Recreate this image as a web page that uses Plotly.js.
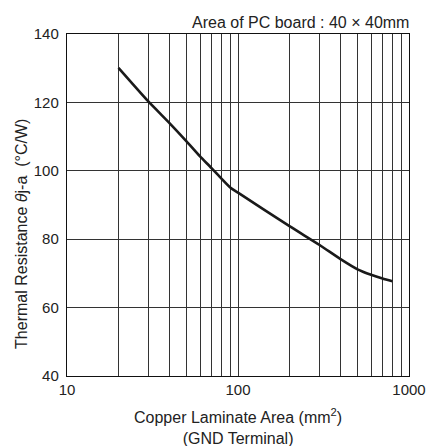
<!DOCTYPE html>
<html>
<head>
<meta charset="utf-8">
<script src="https://cdn.plot.ly/plotly-3.0.1.min.js"></script>
<style>html,body{margin:0;padding:0;background:#fff;}#chart{width:432px;height:446px;}</style>
</head>
<body>
<div id="chart"></div>
<script>
const copperArea = [20, 30, 40, 50, 60, 70, 80, 90, 100, 200, 300, 400, 500, 600, 700, 800];
const thermalResistance = [130.1, 120.2, 113.8, 108.6, 104.2, 100.8, 97.7, 95.1, 93.6, 83.8, 78.3, 74.1, 71.2, 69.6, 68.5, 67.7];
const xTickVals = [10, 100, 1000];
const xTickText = ['10', '100', '1000'];
const xMinorVals = [20, 30, 40, 50, 60, 70, 80, 90, 200, 300, 400, 500, 600, 700, 800, 900];
const yTickVals = [40, 60, 80, 100, 120, 140];

const tickFont = {family: 'Liberation Sans, Arial, sans-serif', size: 15, color: '#222'};
const textFont = {family: 'Liberation Sans, Arial, sans-serif', size: 16, color: '#222'};

Plotly.newPlot('chart', [{
  x: copperArea,
  y: thermalResistance,
  type: 'scatter',
  mode: 'lines',
  line: {color: '#1a1a1a', width: 2.6, shape: 'spline', smoothing: 0.6},
  hoverinfo: 'skip'
}], {
  width: 432, height: 446,
  margin: {l: 67, r: 23, t: 34, b: 70},
  paper_bgcolor: '#fff', plot_bgcolor: '#fff',
  font: tickFont,
  showlegend: false,
  xaxis: {
    type: 'log', range: [1, 3],
    tickmode: 'array', tickvals: xTickVals, ticktext: xTickText,
    showgrid: true, gridcolor: '#333', gridwidth: 1,
    minor: {tickmode: 'array', tickvals: xMinorVals, showgrid: true, gridcolor: '#333', gridwidth: 1, ticks: ''},
    showline: true, linecolor: '#111', linewidth: 1.2, mirror: true,
    ticks: '', zeroline: false, tickfont: tickFont
  },
  yaxis: {
    range: [40, 140],
    tickmode: 'array', tickvals: yTickVals,
    showgrid: true, gridcolor: '#333', gridwidth: 1,
    showline: true, linecolor: '#111', linewidth: 1.2, mirror: true,
    ticks: '', zeroline: false, tickfont: tickFont, ticklabelstandoff: 4
  },
  annotations: [
    {text: 'Area of PC board : 40 × 40mm', xref: 'paper', yref: 'paper', x: 1.005, y: 1, xanchor: 'right', yanchor: 'bottom', yshift: 1, showarrow: false, font: textFont},
    {text: 'Copper Laminate Area (mm<sup>2</sup>)<br>(GND Terminal)', xref: 'paper', yref: 'paper', x: 0.5, y: -0.149, xanchor: 'center', yanchor: 'middle', showarrow: false, font: textFont},
    {text: 'Thermal Resistance <i>θ</i>j-a  (°C/W)', xref: 'paper', yref: 'paper', x: -0.135, y: 0.415, xanchor: 'center', yanchor: 'middle', textangle: -90, showarrow: false, font: textFont}
  ]
}, {staticPlot: true, displayModeBar: false});
</script>
</body>
</html>
